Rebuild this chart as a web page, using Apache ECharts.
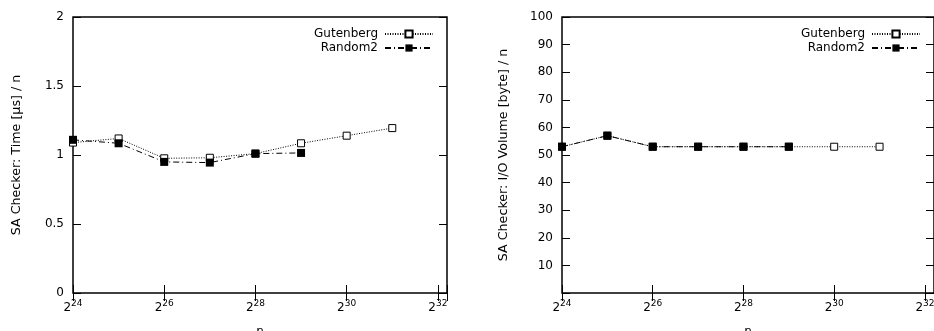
<!DOCTYPE html>
<html><head><meta charset="utf-8">
<script src="https://cdn.jsdelivr.net/npm/echarts@6/dist/echarts.min.js"></script>
<style>html,body{margin:0;padding:0;background:#fff}#c{width:934px;height:331px}</style>
</head><body><div id="c"></div>
<script>
// x values are log2(n)
const exponents = [24, 25, 26, 27, 28, 29, 30, 31];
const xTicks = [24, 26, 28, 30, 32];
const timeGutenberg = [1.09, 1.12, 0.976, 0.98, 1.01, 1.085, 1.14, 1.195];
const timeRandom2 = [1.11, 1.085, 0.95, 0.945, 1.01, 1.015];
const ioGutenberg = [53, 57, 53, 53, 53, 53, 53, 53];
const ioRandom2 = [53, 57, 53, 53, 53, 53];
const seriesNames = ['Gutenberg', 'Random2'];
const yTitles = ['SA Checker: Time [µs] / n', 'SA Checker: I/O Volume [byte] / n'];
const xTitle = 'n';

const FONT = 'DejaVu Sans';
const pairs = (xs, ys) => ys.map((y, i) => [xs[i], y]);

const grids = [
  {left: 73, top: 17, width: 374, height: 276},
  {left: 562, top: 17, width: 372, height: 276}
];

function xAxesFor(gi) {
  const base = {
    type: 'value', gridIndex: gi, min: 24, max: 32.2, interval: 2,
    splitLine: {show: false}, axisLine: {show: false},
    axisTick: {inside: true, length: 8, lineStyle: {color: '#000', width: 1}}
  };
  return [
    Object.assign({}, base, {
      position: 'bottom', name: xTitle, nameLocation: 'middle', nameGap: 33,
      nameTextStyle: {fontFamily: FONT, fontSize: 12, color: '#000'},
      axisLabel: {
        margin: 6, color: '#000', fontFamily: FONT,
        formatter: v => (Number.isInteger(v) && xTicks.includes(v)) ? '{b|2}{s|' + v + '}' : '',
        rich: {
          b: {fontFamily: FONT, fontSize: 12, color: '#000', verticalAlign: 'bottom'},
          s: {fontFamily: FONT, fontSize: 9, color: '#000', verticalAlign: 'bottom', padding: [0, 0, 6, 0]}
        }
      }
    }),
    Object.assign({}, base, {position: 'top', axisLabel: {show: false}})
  ];
}

function yAxesFor(gi, min, max, interval, title, gap, fmt) {
  const base = {
    type: 'value', gridIndex: gi, min: min, max: max, interval: interval,
    splitLine: {show: false}, axisLine: {show: false},
    axisTick: {inside: true, length: 8, lineStyle: {color: '#000', width: 1}}
  };
  return [
    Object.assign({}, base, {
      position: 'left', name: title, nameLocation: 'middle', nameRotate: 90, nameGap: gap,
      nameTextStyle: {fontFamily: FONT, fontSize: 12.7, color: '#000'},
      axisLabel: {margin: 9, color: '#000', fontFamily: FONT, fontSize: 12, formatter: fmt}
    }),
    Object.assign({}, base, {position: 'right', axisLabel: {show: false}})
  ];
}

function mkSeries(name, data, xi, yi, open) {
  return {
    name: name, type: 'line', xAxisIndex: xi, yAxisIndex: yi, data: data,
    symbol: 'rect', symbolSize: open ? 7 : 8, showSymbol: true,
    itemStyle: open ? {color: '#fff', borderColor: '#000', borderWidth: 1} : {color: '#000', borderColor: '#000', borderWidth: 0},
    lineStyle: {color: '#000', width: 1, type: open ? [1, 1.5] : [6, 3, 1, 3]},
    emphasis: {disabled: true}, animation: false, z: open ? 2 : 3
  };
}

const legendBase = {
  data: seriesNames, orient: 'vertical', top: 27, align: 'right', padding: 0,
  itemWidth: 48, itemHeight: 9, itemGap: 0, selectedMode: false,
  textStyle: {fontFamily: FONT, fontSize: 12, color: '#000', lineHeight: 14, padding: [0, 2, 0, 0]}
};

const option = {
  animation: false,
  grid: grids.map(g => Object.assign({show: true, borderColor: '#000', borderWidth: 1.5, backgroundColor: 'transparent', containLabel: false, outerBoundsMode: 'none'}, g)),
  xAxis: [...xAxesFor(0), ...xAxesFor(1)],
  yAxis: [
    ...yAxesFor(0, 0, 2, 0.5, yTitles[0], 50, v => String(v)),
    ...yAxesFor(1, 0, 100, 10, yTitles[1], 52, v => v === 0 ? '' : String(v))
  ],
  legend: [
    Object.assign({}, legendBase, {right: 500}),
    Object.assign({}, legendBase, {right: 13})
  ],
  series: [
    mkSeries(seriesNames[0], pairs(exponents, timeGutenberg), 0, 0, true),
    mkSeries(seriesNames[1], pairs(exponents, timeRandom2), 0, 0, false),
    mkSeries(seriesNames[0], pairs(exponents, ioGutenberg), 2, 2, true),
    mkSeries(seriesNames[1], pairs(exponents, ioRandom2), 2, 2, false)
  ]
};
const chart = echarts.init(document.getElementById('c'), null, {renderer: 'canvas'});
chart.setOption(option);
</script></body></html>
